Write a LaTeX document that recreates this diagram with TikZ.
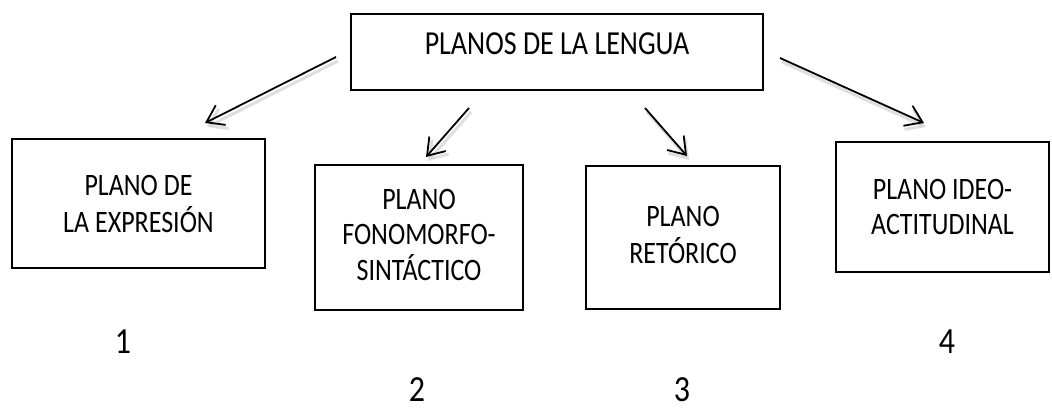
\documentclass[tikz,border=0pt]{standalone}
\usepackage{fontspec}
\usepackage{graphicx}
\setmainfont{Carlito}
\usetikzlibrary{arrows.meta}
\newcommand{\stretchtext}[2][1.2]{\scalebox{1}[#1]{\begin{tabular}{@{}c@{}}#2\end{tabular}}}
\tikzset{
  box/.style={draw=black, line width=1.6pt, inner sep=0pt},
  boxtext/.style={align=center, inner sep=0pt, font=\fontsize{26}{29}\selectfont},
  numtext/.style={inner sep=0pt, font=\fontsize{32}{38}\selectfont},
  conn/.style={line width=1.8pt, -{Straight Barb[length=16pt,width=22pt,line width=1.8pt]}},
  connshadow/.style={line width=3pt, draw=black!25, opacity=0.5, -{Straight Barb[length=16pt,width=22pt,line width=3pt]}}
}
\begin{document}
\begin{tikzpicture}[x=1pt,y=-1pt]
\useasboundingbox (0,0) rectangle (1052,409);
% boxes
\node[box, minimum width=412pt, minimum height=76pt] (top) at (557,52) {};
\node[boxtext, font=\fontsize{28}{31}\selectfont] (toptext) at (557,47) {\stretchtext{PLANOS DE LA LENGUA}};
\node[box, minimum width=253pt, minimum height=129pt] (b1) at (138.5,203.5) {};
\node[boxtext] (t1) at (138.5,207) {\stretchtext{PLANO DE\\LA EXPRESIÓN}};
\node[box, minimum width=208pt, minimum height=145pt] (b2) at (419,237.5) {};
\node[boxtext] (t2) at (419,238) {\stretchtext{PLANO\\FONOMORFO-\\SINTÁCTICO}};
\node[box, minimum width=194pt, minimum height=143pt] (b3) at (683,237.5) {};
\node[boxtext] (t3) at (683,238) {\stretchtext{PLANO\\RETÓRICO}};
\node[box, minimum width=213pt, minimum height=130pt] (b4) at (942.5,207) {};
\node[boxtext] (t4) at (942.5,210) {\stretchtext{PLANO IDEO-\\ACTITUDINAL}};
% numbers
\node[numtext] (n1) at (123,345) {\stretchtext[1.15]{1}};
\node[numtext] (n4) at (947,345) {\stretchtext[1.15]{4}};
\node[numtext] (n2) at (417,393) {\stretchtext[1.15]{2}};
\node[numtext] (n3) at (682,393) {\stretchtext[1.15]{3}};
% arrow coordinates
\coordinate (a1s) at (336,57);
\coordinate (a1e) at (205,123);
\coordinate (a2s) at (469,108);
\coordinate (a2e) at (426,157);
\coordinate (a3s) at (645,108);
\coordinate (a3e) at (687,156);
\coordinate (a4s) at (780,58);
\coordinate (a4e) at (924,123);
% shadows
\foreach \s/\e in {a1s/a1e,a2s/a2e,a3s/a3e,a4s/a4e}{
  \draw[connshadow] ([shift={(2,4)}]\s) -- ([shift={(2,4)}]\e);
}
% arrows
\draw[conn] (a1s) -- (a1e);
\draw[conn] (a2s) -- (a2e);
\draw[conn] (a3s) -- (a3e);
\draw[conn] (a4s) -- (a4e);
\end{tikzpicture}
\end{document}
